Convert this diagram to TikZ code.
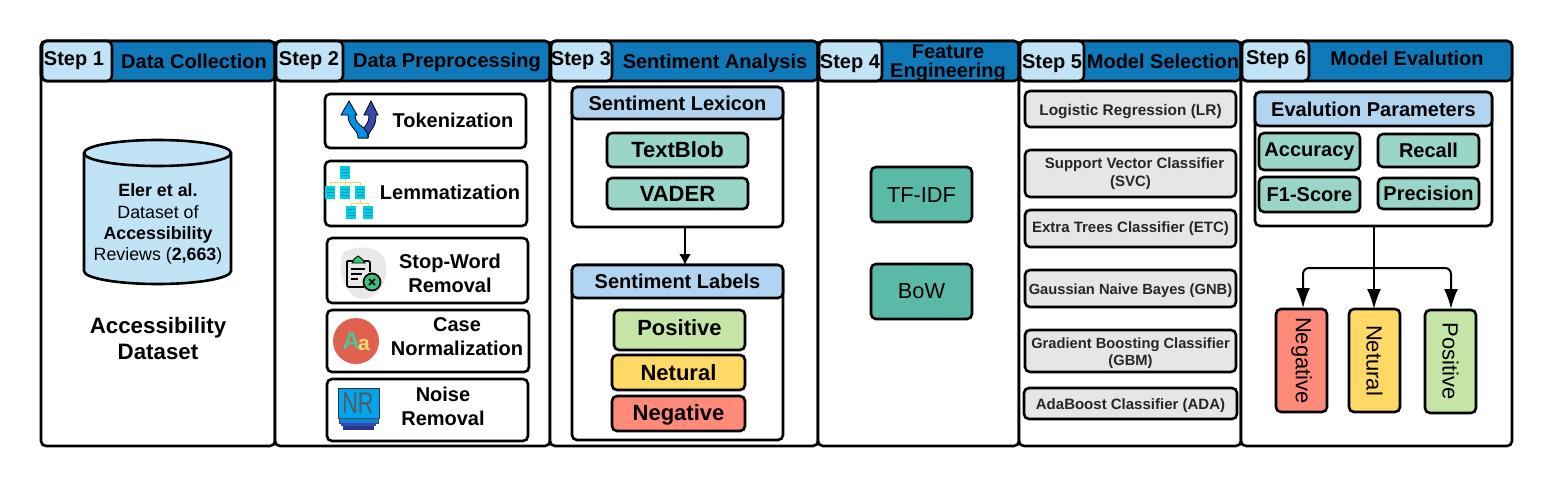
\documentclass[tikz,border=0pt]{standalone}
\usepackage{fontspec}
\setmainfont{Liberation Sans}
\usepackage{tikz}
\usetikzlibrary{arrows.meta}
\definecolor{HeadBlue}{HTML}{0F79B9}
\definecolor{StepBlue}{HTML}{C1E3F6}
\definecolor{SubBlue}{HTML}{B1D4F0}
\definecolor{SoftTeal}{HTML}{9AD6C8}
\definecolor{DeepTeal}{HTML}{5ABAA7}
\definecolor{SoftGrey}{HTML}{E6E6E6}
\definecolor{SoftGreen}{HTML}{C5E5A6}
\definecolor{SoftYellow}{HTML}{FFD966}
\definecolor{SoftRed}{HTML}{FF8A7A}
\definecolor{IconSky}{HTML}{0091E6}
\definecolor{IconIndigo}{HTML}{3949AB}
\definecolor{IconNavy}{HTML}{283593}
\definecolor{IconCyan}{HTML}{00D0D8}
\definecolor{IconWire}{HTML}{FFD54F}
\definecolor{IconCoral}{HTML}{E0614F}
\definecolor{IconMint}{HTML}{3CC47C}
\definecolor{IconScreen}{HTML}{00A5F0}
\newcommand{\fs}[1]{\fontsize{#1}{#1}\selectfont}

\begin{document}
\begin{tikzpicture}[
x=1pt,y=-1pt,
Box/.style={draw=black,line width=2.6pt,rounded corners=5pt,inner sep=0pt,outer sep=0pt,align=center},
Column/.style={Box,fill=white},
Bar/.style={Box,fill=HeadBlue},
StepBox/.style={Box,fill=StepBlue},
Item/.style={Box,fill=white,font=\fs{20}\bfseries},
Sub/.style={Box,fill=SubBlue,font=\fs{20}\bfseries},
Tool/.style={Box,fill=SoftTeal,font=\fs{22}\bfseries},
Metric/.style={Box,fill=SoftTeal,font=\fs{20}\bfseries},
Feature/.style={Box,fill=DeepTeal,font=\fs{21.8}},
Model/.style={Box,fill=SoftGrey,font=\fs{15}\bfseries,text=black!85},
LowText/.style={text height=15pt,text depth=3pt},
Verdict/.style={Box,font=\fs{22},rotate=-90},
Title/.style={font=\fs{20}\bfseries,inner sep=0pt,align=center},
Plain/.style={inner sep=0pt,align=center},
Link/.style={line width=2pt,-{Latex[length=20pt,width=14pt]}}
]
\useasboundingbox (0,0) rectangle (1553,487);

% columns with their header bars
\foreach \n/\xa/\xb/\xs/\xt/\yt/\xl/\yl/\lab in {
1/41/275/112/74/61/194/61/{Data Collection},
2/275/550/343/309/61/447/62/{Data Preprocessing},
3/550/818/612/581/61/715/63/{Sentiment Analysis},
4/818/1019/882/850/64/948/63/{Feature\\Engineering},
5/1019/1241/1084/1052/64/1163/61/{Model Selection},
6/1241/1512/1309/1276/60/1407/58/{Model Evalution}}{
\draw[Column] (\xa,41) rectangle (\xb,446);
\draw[Bar] (\xa,41) rectangle (\xb,81);
\draw[StepBox] (\xa+1,41) rectangle (\xs,81);
\node[Title] (step\n) at (\xt,\yt) {Step \n};
\node[Title,execute at begin node={\baselineskip=19pt}] (head\n) at (\xl,\yl) {\lab};
}

% step 1
\draw[line width=2.6pt,fill=StepBlue] (84,153) -- (84,271) arc[start angle=180,end angle=360,x radius=73.5pt,y radius=13pt] -- (231,153) arc[start angle=0,end angle=180,x radius=73.5pt,y radius=13pt] -- cycle;
\draw[line width=2.6pt] (84,153) arc[start angle=180,end angle=360,x radius=73.5pt,y radius=13pt];
\node[Plain,font=\fs{17.8}] (dataset) at (158,224) {\textbf{Eler et al.}\\[3.4pt]Dataset of\\[3.4pt]\textbf{Accessibility}\\[3.4pt]Reviews (\textbf{2,663})};
\node[Plain,font=\fs{22.3}\bfseries,execute at begin node={\baselineskip=26pt}] (corpus) at (158,339) {Accessibility\\Dataset};

% step 2
\node[Item,minimum width=201pt,minimum height=54pt] (token) at (425.5,121) {};
\node[Plain,font=\fs{20}\bfseries] (tokentext) at (453,120) {Tokenization};
\node[Item,minimum width=202pt,minimum height=65pt] (lemma) at (426,193.5) {};
\node[Plain,font=\fs{20}\bfseries] (lemmatext) at (450,192.5) {Lemmatization};
\node[Item,minimum width=201pt,minimum height=65pt] (stop) at (427.5,270.5) {};
\node[Plain,font=\fs{20}\bfseries,execute at begin node={\baselineskip=24pt}] (stoptext) at (450,273) {Stop-Word\\Removal};
\node[Item,minimum width=202pt,minimum height=62pt] (case) at (428,341) {};
\node[Plain,font=\fs{20}\bfseries,execute at begin node={\baselineskip=24pt}] (casetext) at (457,337) {Case\\Normalization};
\node[Item,minimum width=201pt,minimum height=62pt] (noise) at (427.5,410) {};
\node[Plain,font=\fs{20}\bfseries,execute at begin node={\baselineskip=24pt}] (noisetext) at (443,406) {Noise\\Removal};

% tokenization icon
\draw[fill=IconIndigo,draw=black,line width=.8pt] (359,138) .. controls (361,126) and (369,128) .. (369,115) -- (364,115) -- (371,101) -- (378,115) -- (376,115) .. controls (376,130) and (369,128) .. (368,138) -- cycle;
\draw[fill=IconSky,draw=black,line width=.8pt] (368,138) -- (358,138) .. controls (358,128) and (348,128) .. (348,115) -- (341,115) -- (349,101) -- (357,115) -- (355,115) .. controls (355,127) and (369,126) .. (368,138) -- cycle;

% lemmatization icon
\draw[IconWire,line width=1pt] (345,178) -- (345,182) (330,187) -- (330,182) -- (360,182) -- (360,187) (345,182) -- (345,187) (360,198) -- (360,203) (351,207) -- (351,203) -- (368,203) -- (368,207);
\foreach \ix/\iy in {345/172,330/192,345/192,360/192,351/212,368/212}{
\fill[IconCyan] (\ix-5,\iy-6.5) rectangle (\ix+5,\iy+6.5);
\foreach \iz in {-3,0,3}{\draw[IconSky,line width=1pt] (\ix-3.5,\iy+\iz) -- (\ix+3.5,\iy+\iz);}
}

% stop-word icon
\fill[black!9] (344,252) .. controls (355,245) and (384,244) .. (386,265) .. controls (388,285) and (376,299) .. (363,299) .. controls (345,299) and (335,268) .. (344,252) -- cycle;
\draw[line width=1.7pt,rounded corners=2pt] (347,261) -- (347,287) -- (364,287) (370,272) -- (370,261) -- (347,261);
\fill[IconMint,draw=black,line width=.9pt] (352,263) -- (354,259) -- (358,256) -- (362,259) -- (365,263) -- cycle;
\draw[line width=1.5pt] (351,269) -- (365,269) (351,274) -- (362,274) (351,279) -- (358,279);
\draw[line width=1.7pt,fill=IconMint] (372,282) circle[radius=8.5pt];
\draw[line width=1.5pt] (369,279) -- (375,285) (375,279) -- (369,285);

% case icon
\fill[IconCoral] (356,341) circle[radius=23pt];
\node[Plain,font=\fs{25}\bfseries,text=DeepTeal!90!green] (upper) at (351.5,341) {A};
\node[Plain,font=\fs{21}\bfseries,text=SoftYellow] (lower) at (364,345) {a};

% noise icon
\fill[IconScreen,draw=black!80,line width=.7pt] (338,388) rectangle (379,418);
\fill[IconSky!80!IconIndigo,draw=black!70,line width=.5pt] (339,418) rectangle (378,423);
\fill[IconIndigo] (341,423) rectangle (376,426);
\fill[IconNavy] (343,426) rectangle (374,430);
\node[Plain,font=\fs{30},text=black!65,xscale=.72] (nrmark) at (358,403) {NR};

% step 3
\node[Item,minimum width=211pt,minimum height=140pt] (lexicon) at (677.5,157) {};
\node[Sub,minimum width=211pt,minimum height=32pt] (lexhead) at (677.5,103) {Sentiment Lexicon};
\node[Tool,minimum width=141pt,minimum height=34pt] (textblob) at (677.5,150) {TextBlob};
\node[Tool,minimum width=141pt,minimum height=31pt] (vader) at (677.5,193.5) {VADER};
\node[Item,minimum width=211pt,minimum height=175pt] (labels) at (677.5,352.5) {};
\node[Sub,minimum width=211pt,minimum height=33pt] (labhead) at (677.5,281.5) {Sentiment Labels};
\node[Tool,fill=SoftGreen,minimum width=131pt,minimum height=40pt,text height=16pt,text depth=6pt] (positive) at (679.5,330) {Positive};
\node[Tool,fill=SoftYellow,minimum width=133pt,minimum height=35pt] (netural) at (678.5,372.5) {Netural};
\node[Tool,fill=SoftRed,minimum width=133pt,minimum height=35pt,text height=18pt,text depth=5pt] (negative) at (678.5,413.5) {Negative};
\coordinate (lexline) at (685,0);
\draw[line width=1.8pt,-{Latex[length=11pt,width=12pt]}] (lexicon.south -| lexline) -- (labels.north -| lexline);

% step 4
\node[Feature,minimum width=101pt,minimum height=55pt] (tfidf) at (921.5,194.5) {TF-IDF};
\node[Feature,minimum width=101pt,minimum height=55pt] (bow) at (921.5,291.5) {BoW};

% step 5
\node[Model,LowText,minimum width=211pt,minimum height=36pt,font=\fs{15.4}\bfseries] (lr) at (1130.5,109) {Logistic Regression (LR)};
\node[Model,minimum width=211pt,minimum height=47pt] (svc) at (1130.5,173.5) {\hspace*{8pt}Support Vector Classifier\\[3pt](SVC)};
\node[Model,minimum width=211pt,minimum height=37pt] (etc) at (1130.5,228.5) {Extra Trees Classifier (ETC)};
\node[Model,LowText,minimum width=211pt,minimum height=37pt,font=\fs{14.7}\bfseries] (gnb) at (1130.5,288.5) {Gaussian Naive Bayes (GNB)};
\node[Model,minimum width=211pt,minimum height=42pt] (gbm) at (1130.5,351) {};
\node[Plain,font=\fs{14.7}\bfseries,text=black!85,execute at begin node={\baselineskip=17pt}] (gbmtext) at (1130.5,353.5) {Gradient Boosting Classifier\\(GBM)};
\node[Model,LowText,minimum width=213pt,minimum height=31pt] (ada) at (1130.5,403.5) {AdaBoost Classifier (ADA)};

% step 6
\node[Item,minimum width=237pt,minimum height=134pt] (params) at (1373.5,159) {};
\node[Sub,minimum width=237pt,minimum height=34pt] (parhead) at (1373.5,109) {Evalution Parameters};
\node[Metric,minimum width=101pt,minimum height=37pt] (accuracy) at (1309.5,151.5) {Accuracy};
\node[Metric,minimum width=101pt,minimum height=33pt] (recall) at (1428.5,150.5) {Recall};
\node[Metric,minimum width=101pt,minimum height=35pt] (fscore) at (1309.5,194.5) {F1-Score};
\node[Metric,minimum width=101pt,minimum height=31pt] (precision) at (1428.5,193.5) {Precision};
\node[Verdict,fill=SoftRed,minimum width=103pt,minimum height=51pt] (evneg) at (1301.5,360.5) {Negative};
\node[Verdict,fill=SoftYellow,minimum width=103pt,minimum height=51pt] (evneu) at (1374.5,360.5) {Netural};
\node[Verdict,fill=SoftGreen,minimum width=103pt,minimum height=51pt] (evpos) at (1450.5,361.5) {Positive};
\coordinate (fork) at (1374,268);
\draw[line width=2pt] (params.south -| fork) -- (fork);
\draw[Link] (fork) -- (evneu.west -| fork);
\draw[Link,rounded corners=6pt] (fork) -- (1303,268) -- (1303,308);
\draw[Link,rounded corners=6pt] (fork) -- (1451,268) -- (1451,309);

\end{tikzpicture}
\end{document}
